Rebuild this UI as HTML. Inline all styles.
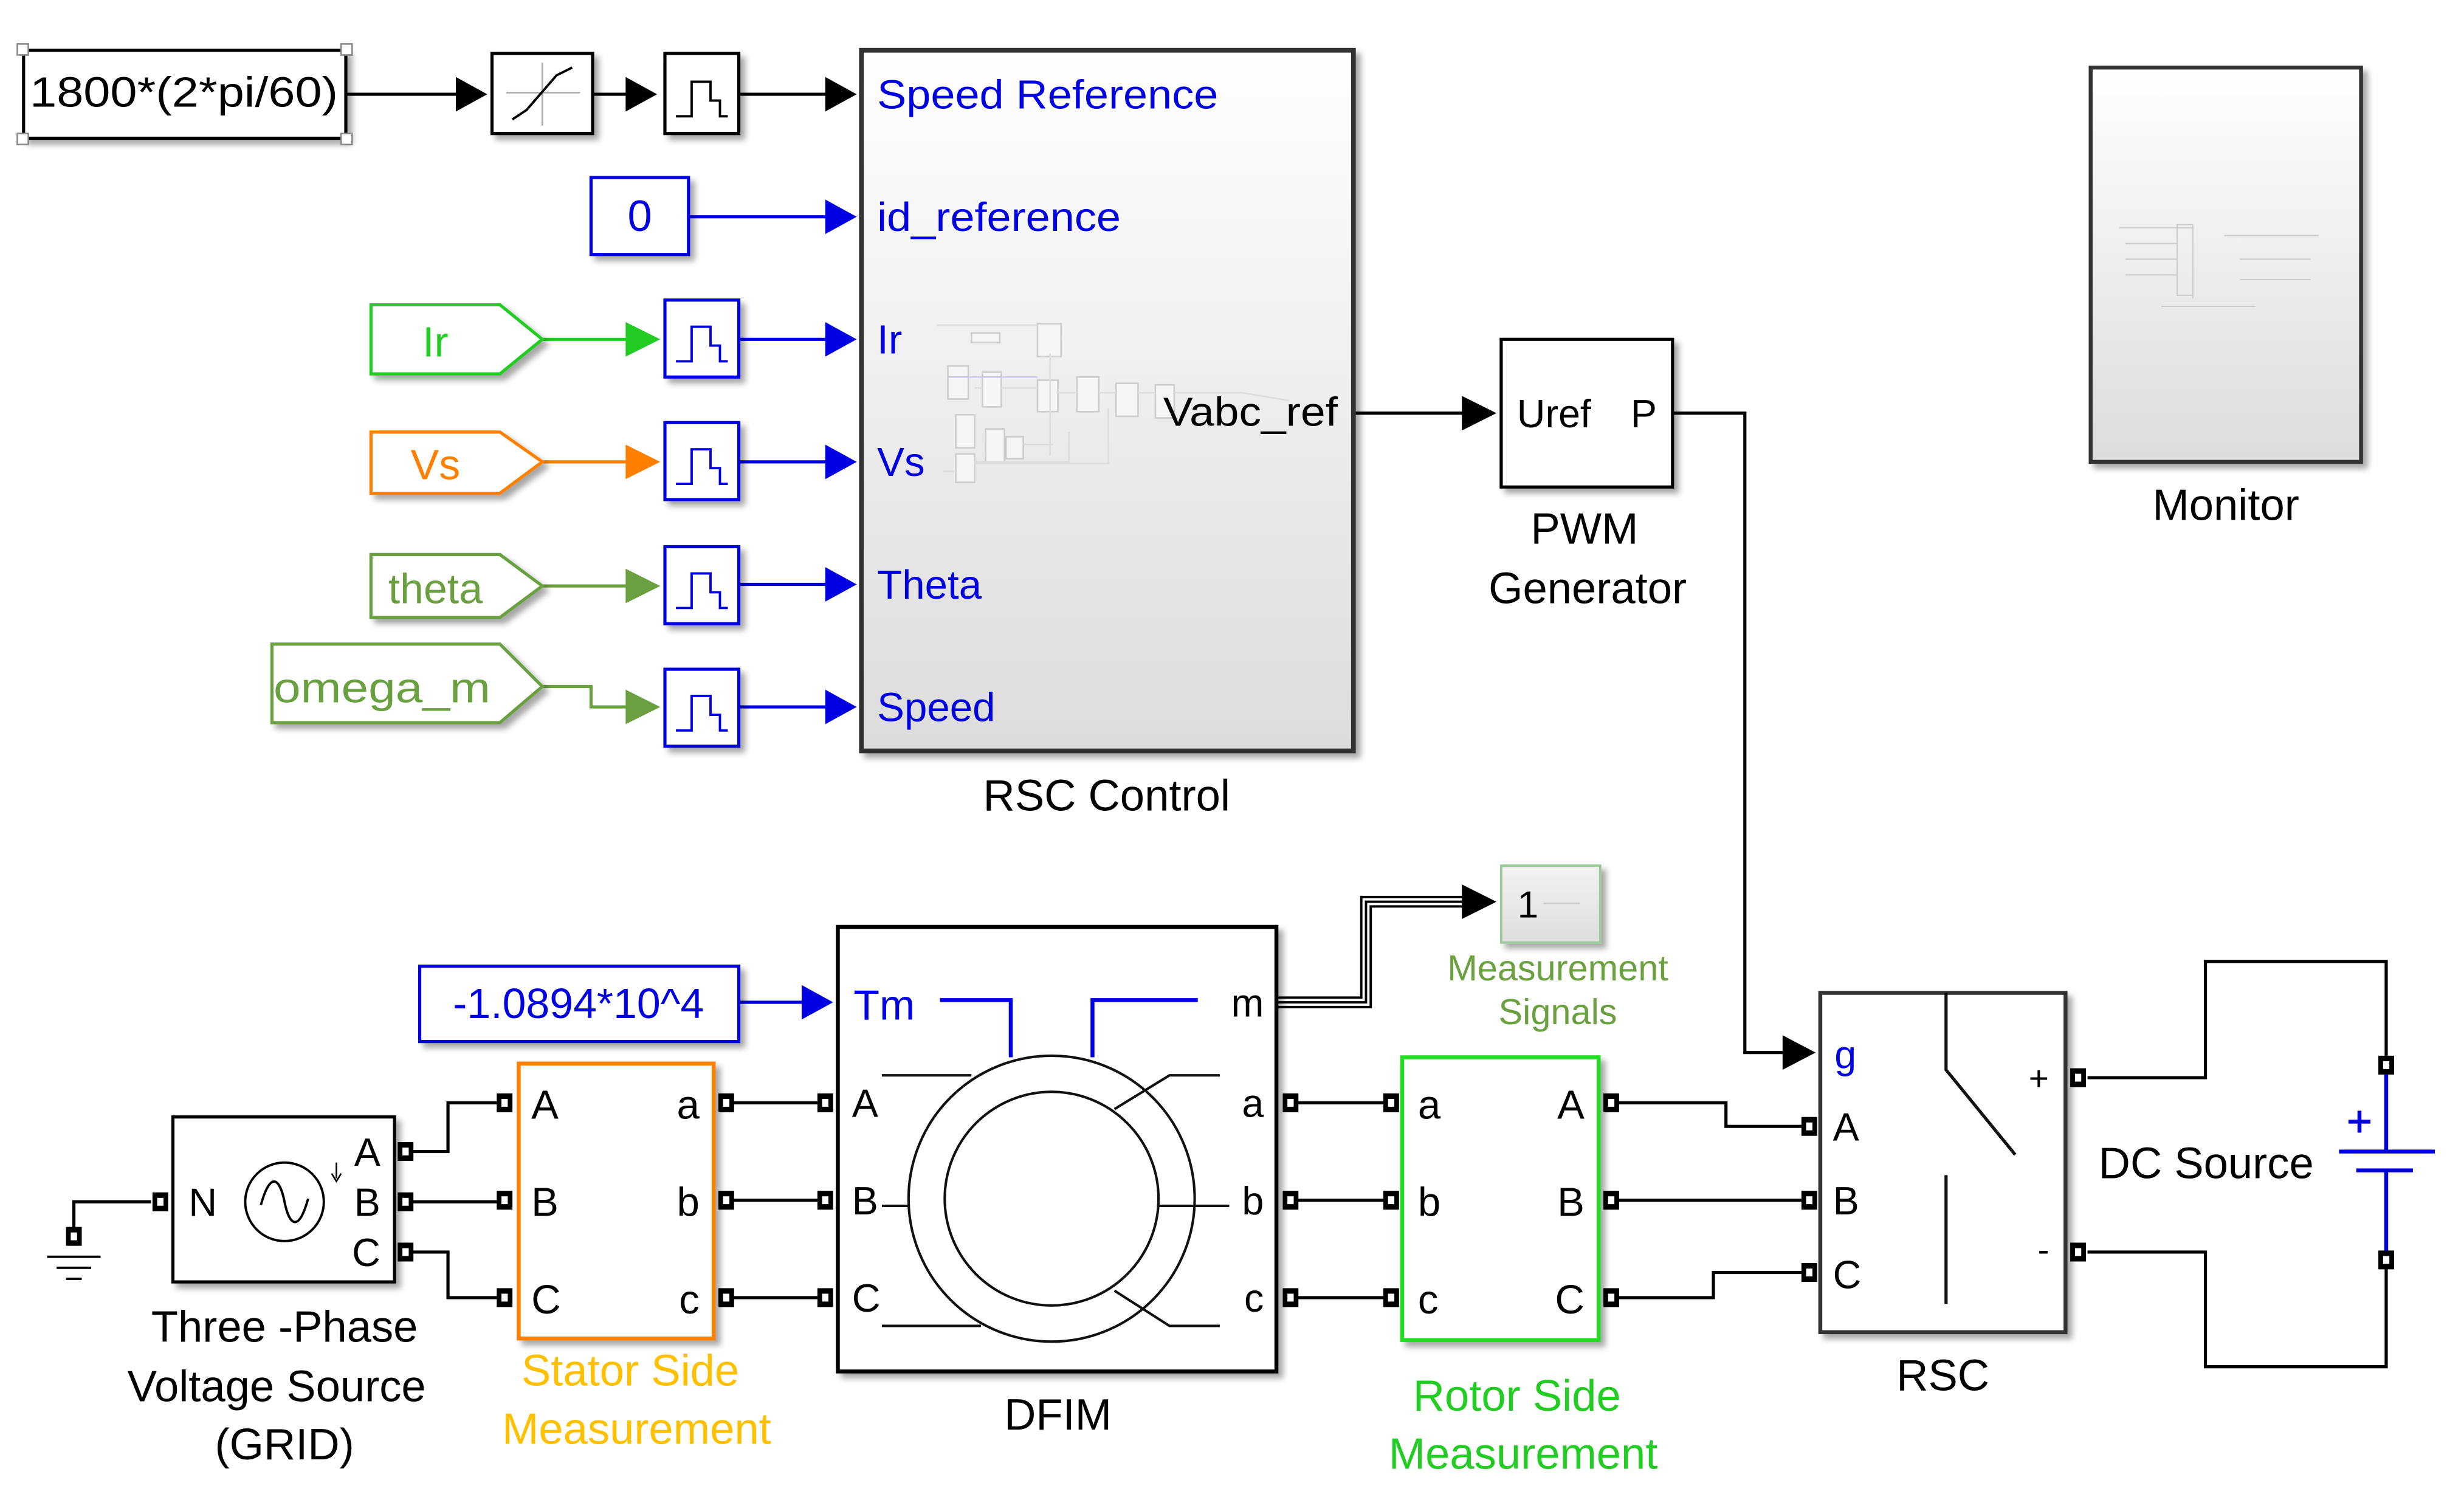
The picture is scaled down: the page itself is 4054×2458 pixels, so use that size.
<!DOCTYPE html>
<html><head><meta charset="utf-8"><style>
html,body{margin:0;padding:0;background:#fff;}
svg{display:block;}
text{font-family:"Liberation Sans",Arial,sans-serif;}
</style></head><body>
<svg width="4054" height="2458" viewBox="0 0 1567.5 951" preserveAspectRatio="none" xmlns="http://www.w3.org/2000/svg">
<defs>
<linearGradient id="gr" x1="0" y1="0" x2="0" y2="1"><stop offset="0" stop-color="#ffffff"/><stop offset="1" stop-color="#dcdcdc"/></linearGradient>
<linearGradient id="gr2" x1="0" y1="0" x2="0" y2="1"><stop offset="0" stop-color="#f2f2f2"/><stop offset="1" stop-color="#dedede"/></linearGradient>
<filter id="sh" x="-10%" y="-10%" width="130%" height="130%"><feGaussianBlur in="SourceAlpha" stdDeviation="2"/><feOffset dx="3" dy="3"/><feComponentTransfer><feFuncA type="linear" slope="0.35"/></feComponentTransfer><feMerge><feMergeNode/><feMergeNode in="SourceGraphic"/></feMerge></filter>
<g id="port"><rect x="-5" y="-6" width="10" height="12" fill="#000"/><rect x="-2" y="-2.5" width="4" height="5" fill="#fff"/></g>
</defs>
<rect width="1567.5" height="951" fill="#fff"/>

<g fill="none" stroke="#000" stroke-width="2">
<path d="M220 60H292M377 60H402M470 60H530"/>
<path d="M861 263H935"/>
<path d="M1064 263H1110V670H1138"/>
<path d="M258 733H285V702H316M258 765H316M258 797H285V826H316"/>
<path d="M96 765H47V782"/>
<path d="M462 702H520M462 764H520M462 826H520"/>
<path d="M822 702H880M822 764H880M822 826H880"/>
<path d="M1025 702H1098V717H1146M1025 764H1146M1025 826H1090V810H1146"/>
<path d="M1328 686H1403V612H1518V672M1328 797H1403V870H1518V808"/>
<path d="M813 635H866V571H930M813 638H869V574H930M813 641H872V577H930" stroke-width="1.5"/>
</g>
<g fill="#000">
<polygon points="290,49 310,60 290,71"/>
<polygon points="398,49 418,60 398,71"/>
<polygon points="525,49 545,60 525,71"/>
<polygon points="930,252 952,263 930,274"/>
<polygon points="1134,659 1155,670 1134,681"/>
<polygon points="930,563 952,574 930,585"/>
</g>
<g stroke="#0000e0" stroke-width="2" fill="none">
<path d="M438 138H530M470 216H530M470 294H530M470 372H530M470 450H530M470 638H515"/>
</g>
<g fill="#0000e0">
<polygon points="525,127 545,138 525,149"/>
<polygon points="525,205 545,216 525,227"/>
<polygon points="525,283 545,294 525,305"/>
<polygon points="525,361 545,372 525,383"/>
<polygon points="525,439 545,450 525,461"/>
<polygon points="510,627 530,638 510,649"/>
</g>
<path d="M345 216H402" stroke="#22cc22" stroke-width="2"/><polygon points="398,205 420,216 398,227" fill="#22cc22"/>
<path d="M345 294H402" stroke="#ff8000" stroke-width="2"/><polygon points="398,283 420,294 398,305" fill="#ff8000"/>
<path d="M345 373H402" stroke="#6aa040" stroke-width="2"/><polygon points="398,362 420,373 398,384" fill="#6aa040"/>
<path d="M345 437H376V450H402" stroke="#6aa040" stroke-width="2" fill="none"/><polygon points="398,439 420,450 398,461" fill="#6aa040"/>

<rect x="15" y="32" width="205" height="56" fill="#fff" stroke="#000" stroke-width="2" filter="url(#sh)"/>
<g fill="#fff" stroke="#888" stroke-width="1"><rect x="11" y="28" width="7" height="7"/><rect x="217" y="28" width="7" height="7"/><rect x="11" y="85" width="7" height="7"/><rect x="217" y="85" width="7" height="7"/></g>
<text x="117" y="68" font-size="27" text-anchor="middle" textLength="196" lengthAdjust="spacingAndGlyphs">1800*(2*pi/60)</text>
<rect x="313" y="34" width="64" height="51" fill="#fff" stroke="#000" stroke-width="2" filter="url(#sh)"/>
<path d="M322 59H369M345 40V80" stroke="#aaa" stroke-width="1"/>
<path d="M326 76L335 70L354 48L364 43" stroke="#000" stroke-width="1.5" fill="none"/>
<rect x="423" y="34" width="47" height="51" fill="#fff" stroke="#000" stroke-width="2" filter="url(#sh)"/>
<path d="M430 74H440V52H452V64H458V74H463" stroke="#000" stroke-width="1.5" fill="none"/>
<g stroke="#0000e0" stroke-width="2" fill="#fff">
<rect x="423" y="191" width="47" height="49" filter="url(#sh)"/>
<rect x="423" y="269" width="47" height="49" filter="url(#sh)"/>
<rect x="423" y="348" width="47" height="49" filter="url(#sh)"/>
<rect x="423" y="426" width="47" height="49" filter="url(#sh)"/>
</g>
<g stroke="#0000e0" stroke-width="1.5" fill="none">
<path d="M430 230H440V208H452V220H458V230H463"/>
<path d="M430 308H440V286H452V298H458V308H463"/>
<path d="M430 387H440V365H452V377H458V387H463"/>
<path d="M430 465H440V443H452V455H458V465H463"/>
</g>
<rect x="376" y="113" width="62" height="49" fill="#fff" stroke="#0000e0" stroke-width="2" filter="url(#sh)"/>
<text x="407" y="147" font-size="28" text-anchor="middle" fill="#0000e0">0</text>
<polygon points="236,194 318,194 345,216 318,238 236,238" fill="#fff" stroke="#22cc22" stroke-width="2" filter="url(#sh)"/>
<text x="277" y="227" font-size="27" text-anchor="middle" fill="#22cc22">Ir</text>
<polygon points="236,275 318,275 345,294 318,314 236,314" fill="#fff" stroke="#ff8000" stroke-width="2" filter="url(#sh)"/>
<text x="277" y="305" font-size="27" text-anchor="middle" fill="#ff8000">Vs</text>
<polygon points="236,353 318,353 345,373 318,393 236,393" fill="#fff" stroke="#6aa040" stroke-width="2" filter="url(#sh)"/>
<text x="277" y="384" font-size="27" text-anchor="middle" fill="#6aa040">theta</text>
<polygon points="173,410 318,410 345,437 318,460 173,460" fill="#fff" stroke="#6aa040" stroke-width="2" filter="url(#sh)"/>
<text x="174" y="447" font-size="27" fill="#6aa040" textLength="138" lengthAdjust="spacingAndGlyphs">omega_m</text>

<rect x="548" y="32" width="313" height="446" fill="url(#gr)" stroke="#333" stroke-width="3" filter="url(#sh)"/>
<g stroke="#ccc" stroke-width="1" fill="#f6f6f6">
<rect x="660" y="206" width="15" height="21"/><rect x="625" y="237" width="12" height="22"/><rect x="660" y="242" width="13" height="20"/>
<rect x="685" y="240" width="14" height="22"/><rect x="710" y="244" width="14" height="21"/><rect x="627" y="273" width="12" height="21"/>
<rect x="608" y="264" width="12" height="21"/><rect x="640" y="278" width="11" height="14"/><rect x="608" y="289" width="12" height="18"/>
<rect x="618" y="212" width="18" height="6"/><rect x="603" y="233" width="13" height="21"/><rect x="735" y="245" width="12" height="21"/>
</g>
<g stroke="#ddd" stroke-width="1" fill="none">
<path d="M596 207H660M620 247H625M637 247H660M672 250H685M699 250H710M724 250H735M747 250H790L820 255M620 294H680V275M651 283H670M600 300H608M705 260V295H620M668 225V290"/>
<path d="M603 240H660" stroke="#ccccf0"/>
</g>
<g fill="#0000e0" font-size="26">
<text x="558" y="69" textLength="217" lengthAdjust="spacingAndGlyphs">Speed Reference</text>
<text x="558" y="147" textLength="155" lengthAdjust="spacingAndGlyphs">id_reference</text>
<text x="558" y="225">Ir</text>
<text x="558" y="303">Vs</text>
<text x="558" y="381">Theta</text>
<text x="558" y="459">Speed</text>
</g>
<text x="740" y="271" font-size="26" textLength="111" lengthAdjust="spacingAndGlyphs">Vabc_ref</text>
<text x="704" y="516" font-size="28" text-anchor="middle">RSC Control</text>

<rect x="955" y="216" width="109" height="94" fill="#fff" stroke="#000" stroke-width="2" filter="url(#sh)"/>
<text x="965" y="272" font-size="25">Uref</text><text x="1054" y="272" font-size="25" text-anchor="end">P</text>
<text x="1008" y="346" font-size="28" text-anchor="middle">PWM</text>
<text x="1010" y="384" font-size="28" text-anchor="middle">Generator</text>

<rect x="1330" y="43" width="172" height="251" fill="url(#gr)" stroke="#333" stroke-width="2.5" filter="url(#sh)"/>
<g stroke="#ccc" stroke-width="0.8" fill="none"><path d="M1348 145H1395V190M1352 155H1385M1352 165H1385M1352 175H1385M1375 195H1435M1415 150H1475M1425 165H1470M1425 178H1470"/><rect x="1385" y="143" width="10" height="45"/></g>
<text x="1416" y="331" font-size="28" text-anchor="middle">Monitor</text>

<rect x="955" y="551" width="63" height="49" fill="url(#gr2)" stroke="#9c9" stroke-width="1.5" filter="url(#sh)"/>
<text x="972" y="584" font-size="24" text-anchor="middle">1</text>
<path d="M982 575H1005" stroke="#ccc"/>
<text x="991" y="624" font-size="23" text-anchor="middle" fill="#6aa040">Measurement</text>
<text x="991" y="652" font-size="23" text-anchor="middle" fill="#6aa040">Signals</text>

<rect x="267" y="615" width="203" height="48" fill="#fff" stroke="#0000e0" stroke-width="2" filter="url(#sh)"/>
<text x="368" y="648" font-size="27" text-anchor="middle" fill="#0000e0">-1.0894*10^4</text>

<rect x="533" y="590" width="279" height="283" fill="#fff" stroke="#000" stroke-width="2.5" filter="url(#sh)"/>
<g fill="none" stroke="#111" stroke-width="1.6">
<circle cx="669" cy="763" r="91"/>
<circle cx="669" cy="763" r="68"/>
<path d="M561 684.5H618M561 844H624M561 767.6H578M776 684.5H744L709 706M776 844H744L709 821.6M736 767.6H782"/>
</g>
<path d="M598 636.6H643V673M695 673V636.6H762" stroke="#0000e0" stroke-width="2.5" fill="none"/>
<text x="543" y="649" font-size="27" fill="#0000e0">Tm</text>
<text x="804" y="647" font-size="25" text-anchor="end">m</text>
<g font-size="25"><text x="542" y="711">A</text><text x="542" y="773">B</text><text x="542" y="835">C</text>
<text x="804" y="711" text-anchor="end">a</text><text x="804" y="773" text-anchor="end">b</text><text x="804" y="835" text-anchor="end">c</text></g>
<text x="673" y="910" font-size="28" text-anchor="middle">DFIM</text>

<rect x="110" y="711" width="141" height="105" fill="#fff" stroke="#000" stroke-width="2" filter="url(#sh)"/>
<circle cx="181" cy="765" r="25" fill="none" stroke="#000" stroke-width="1.5"/>
<path d="M166 767C172 745 178 750 181 765S190 785 196 763" fill="none" stroke="#000" stroke-width="1.5"/>
<path d="M214 740V750M211 747L214 752L217 747" stroke="#000" stroke-width="1" fill="none"/>
<g font-size="25"><text x="120" y="774">N</text><text x="242" y="742" text-anchor="end">A</text><text x="242" y="774" text-anchor="end">B</text><text x="242" y="806" text-anchor="end">C</text></g>
<text x="181" y="854" font-size="28" text-anchor="middle">Three -Phase</text>
<text x="176" y="892" font-size="28" text-anchor="middle">Voltage Source</text>
<text x="181" y="929" font-size="28" text-anchor="middle">(GRID)</text>
<path d="M30 800H64M36 807H58M42 814H52" stroke="#000" stroke-width="1.5"/>

<rect x="330" y="677" width="124" height="175" fill="#fff" stroke="#ff8000" stroke-width="2.5" filter="url(#sh)"/>
<g font-size="26"><text x="338" y="712">A</text><text x="338" y="774">B</text><text x="338" y="836">C</text>
<text x="445" y="712" text-anchor="end">a</text><text x="445" y="774" text-anchor="end">b</text><text x="445" y="836" text-anchor="end">c</text></g>
<text x="401" y="882" font-size="28" text-anchor="middle" fill="#ffc000">Stator Side</text>
<text x="405" y="919" font-size="28" text-anchor="middle" fill="#ffc000">Measurement</text>

<rect x="892" y="673" width="125" height="180" fill="#fff" stroke="#22dd22" stroke-width="2.5" filter="url(#sh)"/>
<g font-size="26"><text x="902" y="712">a</text><text x="902" y="774">b</text><text x="902" y="836">c</text>
<text x="1008" y="712" text-anchor="end">A</text><text x="1008" y="774" text-anchor="end">B</text><text x="1008" y="836" text-anchor="end">C</text></g>
<text x="965" y="898" font-size="28" text-anchor="middle" fill="#22cc22">Rotor Side</text>
<text x="969" y="935" font-size="28" text-anchor="middle" fill="#22cc22">Measurement</text>

<rect x="1158" y="632" width="156" height="216" fill="#fff" stroke="#333" stroke-width="2.5" filter="url(#sh)"/>
<path d="M1238 632V681L1282 735M1238 748V830" stroke="#111" stroke-width="2" fill="none"/>
<text x="1167" y="680" font-size="25" fill="#0000e0">g</text>
<g font-size="25"><text x="1166" y="726">A</text><text x="1166" y="773">B</text><text x="1166" y="820">C</text></g>
<text x="1297" y="694" font-size="22" text-anchor="middle">+</text>
<text x="1300" y="803" font-size="22" text-anchor="middle">-</text>
<text x="1236" y="885" font-size="28" text-anchor="middle">RSC</text>

<path d="M1518 684V733M1488 733H1549M1499 745H1535M1518 745V798" stroke="#0000e0" stroke-width="2.5" fill="none"/>
<path d="M1494 714H1508M1501 707V721" stroke="#0000e0" stroke-width="2.5"/>
<text x="1335" y="750" font-size="28">DC Source</text>

<g>
<use href="#port" x="47" y="787"/>
<use href="#port" x="102" y="765"/>
<use href="#port" x="258" y="733"/><use href="#port" x="258" y="765"/><use href="#port" x="258" y="797"/>
<use href="#port" x="321" y="702"/><use href="#port" x="321" y="764"/><use href="#port" x="321" y="826"/>
<use href="#port" x="462" y="702"/><use href="#port" x="462" y="764"/><use href="#port" x="462" y="826"/>
<use href="#port" x="525" y="702"/><use href="#port" x="525" y="764"/><use href="#port" x="525" y="826"/>
<use href="#port" x="821" y="702"/><use href="#port" x="821" y="764"/><use href="#port" x="821" y="826"/>
<use href="#port" x="885" y="702"/><use href="#port" x="885" y="764"/><use href="#port" x="885" y="826"/>
<use href="#port" x="1025" y="702"/><use href="#port" x="1025" y="764"/><use href="#port" x="1025" y="826"/>
<use href="#port" x="1151" y="717"/><use href="#port" x="1151" y="764"/><use href="#port" x="1151" y="810"/>
<use href="#port" x="1322" y="686"/><use href="#port" x="1322" y="797"/>
<use href="#port" x="1518" y="678"/><use href="#port" x="1518" y="802"/>
</g>
</svg>
</body></html>
